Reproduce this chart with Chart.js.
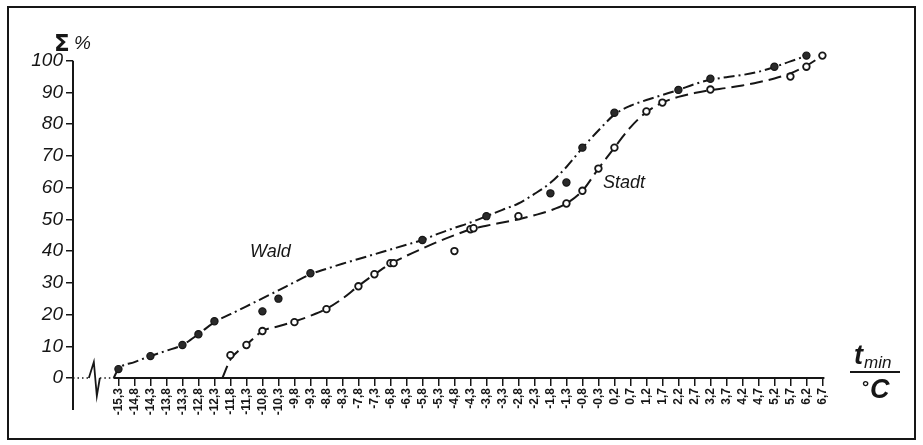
<!DOCTYPE html>
<html lang="de">
<head>
<meta charset="utf-8">
<title>Summenkurven der Minimumtemperatur – Wald und Stadt</title>
<script src="https://cdn.jsdelivr.net/npm/chart.js@4/dist/chart.umd.min.js"></script>
<style>
  html, body { margin: 0; padding: 0; background: #fff; }
  canvas { display: block; }
</style>
</head>
<body>
<canvas id="c" width="923" height="445"></canvas>
<script>
// Minimum temperatures (°C) on the x axis
const tempTicks = [-15.3, -14.8, -14.3, -13.8, -13.3, -12.8, -12.3, -11.8, -11.3, -10.8,
  -10.3, -9.8, -9.3, -8.8, -8.3, -7.8, -7.3, -6.8, -6.3, -5.8, -5.3, -4.8, -4.3, -3.8,
  -3.3, -2.8, -2.3, -1.8, -1.3, -0.8, -0.3, 0.2, 0.7, 1.2, 1.7, 2.2, 2.7, 3.2, 3.7,
  4.2, 4.7, 5.2, 5.7, 6.2, 6.7];
const percentTicks = [0, 10, 20, 30, 40, 50, 60, 70, 80, 90, 100];

// Wald: measured cumulative percentages
const waldPointT = [-15.3, -14.3, -13.3, -12.8, -12.3, -10.8, -10.3, -9.3, -5.8, -3.8,
  -1.8, -1.3, -0.8, 0.2, 2.2, 3.2, 5.2, 6.2];
const waldPointV = [2.8, 6.9, 10.4, 13.8, 17.9, 21, 25, 33, 43.5, 51,
  58.2, 61.6, 72.6, 83.6, 90.8, 94.3, 98.1, 101.6];

// Wald: smoothed cumulative curve
const waldCurveT = [-15.45, -15.3, -14.8, -14.3, -13.8, -13.3, -12.8, -12.3, -11.8, -11.3,
  -10.8, -10.3, -9.8, -9.3, -8.8, -8.3, -7.8, -7.3, -6.8, -6.3, -5.8, -5.3, -4.8, -4.3,
  -3.8, -3.3, -2.8, -2.3, -1.8, -1.3, -0.8, -0.3, 0.2, 0.7, 1.2, 1.7, 2.2, 2.7, 3.2,
  3.7, 4.2, 4.7, 5.2, 5.7, 6.2];
const waldCurveV = [0, 2.8, 5, 6.9, 8.6, 10.4, 13.8, 17.6, 20.1, 22.6,
  25.1, 27.6, 30.2, 32.7, 34.4, 36, 37.5, 39, 40.5, 42, 43.5, 45.5, 47.3, 49,
  51, 53, 55, 58, 61.5, 66.5, 72.5, 78, 83, 85.8, 87.6, 89.2, 90.8, 92.6, 94,
  94.8, 95.5, 96.5, 98, 99.8, 101.5];

// Stadt: measured cumulative percentages
const stadtPointT = [-11.8, -11.3, -10.8, -9.8, -8.8, -7.8, -7.3, -6.8, -6.7, -4.8,
  -4.3, -4.2, -2.8, -1.3, -0.8, -0.3, 0.2, 1.2, 1.7, 3.2, 5.7, 6.2, 6.7];
const stadtPointV = [7.2, 10.4, 14.8, 17.6, 21.7, 28.9, 32.7, 36.2, 36.2, 40,
  46.9, 47.2, 51, 55, 59, 66, 72.6, 84, 86.8, 90.9, 95, 98.1, 101.6];

// Stadt: smoothed cumulative curve
const stadtCurveT = [-12.05, -11.8, -11.3, -10.8, -10.3, -9.8, -9.3, -8.8, -8.3, -7.8,
  -7.3, -6.8, -6.3, -5.8, -5.3, -4.8, -4.3, -3.8, -3.3, -2.8, -2.3, -1.8, -1.3, -0.8,
  -0.3, 0.2, 0.7, 1.2, 1.7, 2.2, 2.7, 3.2, 3.7, 4.2, 4.7, 5.2, 5.7, 6.2, 6.7];
const stadtCurveV = [0, 5.8, 10.4, 14.8, 16.3, 17.8, 19.6, 21.8, 25, 29,
  32.7, 36, 38.5, 40.8, 43, 45, 46.8, 48, 49, 50, 51.3, 52.8, 55, 59,
  66, 72.6, 79, 83.8, 86.8, 88.6, 89.8, 90.7, 91.4, 92.2, 93.2, 94.4, 96, 98.4, 101.6];

// Curve labels: text, temperature, percentage
const curveNames = ['Wald', 'Stadt'];
const curveNameT = [-10.55, 0.5];
const curveNameV = [38, 60];

const ink = '#161616';
const toXY = (ts, vs) => ts.map((t, i) => ({ x: t, y: vs[i] }));

const decorations = {
  id: 'decorations',
  afterDraw(chart) {
    const { ctx, scales: { x, y }, chartArea } = chart;
    const y0 = y.getPixelForValue(0);
    ctx.save();
    ctx.strokeStyle = ink;
    ctx.fillStyle = ink;

    // frame around the figure
    ctx.lineWidth = 2;
    ctx.strokeRect(8, 7, 907, 432);

    // y axis line
    ctx.beginPath();
    ctx.moveTo(chartArea.left, y.getPixelForValue(100));
    ctx.lineTo(chartArea.left, y0 + 32);
    ctx.stroke();

    // x axis: dotted lead-in with a break, then the solid axis
    const breakX = x.getPixelForValue(-16.1);
    const startX = x.getPixelForValue(-15.45);
    ctx.lineWidth = 1.5;
    ctx.setLineDash([1.5, 3]);
    ctx.beginPath();
    ctx.moveTo(chartArea.left, y0); ctx.lineTo(breakX - 4, y0);
    ctx.moveTo(breakX + 7, y0); ctx.lineTo(startX, y0);
    ctx.stroke();
    ctx.setLineDash([]);
    ctx.lineWidth = 1.8;
    ctx.beginPath();
    ctx.moveTo(breakX - 4, y0);
    ctx.lineTo(breakX + 1, y0 - 16);
    ctx.lineTo(breakX + 4, y0 + 18);
    ctx.lineTo(breakX + 7, y0);
    ctx.stroke();
    ctx.lineWidth = 2;
    ctx.beginPath();
    ctx.moveTo(startX, y0);
    ctx.lineTo(x.getPixelForValue(6.7) + 2, y0);
    ctx.stroke();

    // y axis title: Σ %
    const yTop = y.getPixelForValue(100);
    ctx.textBaseline = 'alphabetic';
    ctx.textAlign = 'left';
    ctx.font = 'bold 23px "DejaVu Sans", sans-serif';
    ctx.fillText('Σ', chartArea.left - 19, yTop - 10);
    ctx.font = 'italic 19px "Liberation Sans", sans-serif';
    ctx.fillText('%', chartArea.left + 1, yTop - 12);

    // x axis title: t_min over °C
    const tx = chartArea.right + 26;
    ctx.font = 'italic bold 27px "Liberation Sans", sans-serif';
    ctx.fillText('t', tx + 4, y0 - 14);
    ctx.font = 'italic 17px "Liberation Sans", sans-serif';
    ctx.fillText('min', tx + 14, y0 - 10);
    ctx.lineWidth = 2;
    ctx.beginPath();
    ctx.moveTo(tx, y0 - 6); ctx.lineTo(tx + 50, y0 - 6);
    ctx.stroke();
    ctx.font = 'bold 18px "Liberation Sans", sans-serif';
    ctx.fillText('°', tx + 12, y0 + 15);
    ctx.font = 'italic bold 27px "Liberation Sans", sans-serif';
    ctx.fillText('C', tx + 20, y0 + 20);

    // curve names
    ctx.font = 'italic 18px "Liberation Sans", sans-serif';
    ctx.textAlign = 'center';
    curveNames.forEach((name, i) => {
      ctx.fillText(name, x.getPixelForValue(curveNameT[i]), y.getPixelForValue(curveNameV[i]));
    });
    ctx.restore();
  }
};

new Chart(document.getElementById('c'), {
  type: 'scatter',
  data: {
    datasets: [
      {
        label: 'Wald (Kurve)',
        type: 'line',
        data: toXY(waldCurveT, waldCurveV),
        borderColor: ink,
        borderWidth: 2,
        borderDash: [11, 4, 2, 4],
        pointRadius: 0,
        cubicInterpolationMode: 'monotone',
        clip: false,
        order: 4
      },
      {
        label: 'Stadt (Kurve)',
        type: 'line',
        data: toXY(stadtCurveT, stadtCurveV),
        borderColor: ink,
        borderWidth: 2,
        borderDash: [13, 6],
        pointRadius: 0,
        cubicInterpolationMode: 'monotone',
        clip: false,
        order: 3
      },
      {
        label: 'Wald',
        data: toXY(waldPointT, waldPointV),
        showLine: false,
        pointRadius: 3.6,
        pointBackgroundColor: '#2a2a2a',
        pointBorderColor: ink,
        pointBorderWidth: 1.2,
        clip: false,
        order: 2
      },
      {
        label: 'Stadt',
        data: toXY(stadtPointT, stadtPointV),
        showLine: false,
        pointRadius: 3.3,
        pointBackgroundColor: '#ffffff',
        pointBorderColor: ink,
        pointBorderWidth: 1.8,
        clip: false,
        order: 1
      }
    ]
  },
  options: {
    responsive: false,
    animation: false,
    events: [],
    layout: { padding: { top: 48, right: 99, bottom: 0, left: 0 } },
    plugins: { legend: { display: false }, tooltip: { enabled: false } },
    scales: {
      x: {
        type: 'linear',
        min: -16.72,
        max: 6.75,
        afterBuildTicks(scale) { scale.ticks = tempTicks.map(v => ({ value: v })); },
        afterFit(scale) { scale.height = 67; },
        border: { display: false },
        grid: { drawOnChartArea: false, drawTicks: true, tickLength: 8, color: ink, lineWidth: 1.5 },
        ticks: {
          autoSkip: false,
          minRotation: 90,
          maxRotation: 90,
          padding: 2,
          color: ink,
          font: { family: '"Liberation Sans", sans-serif', size: 12, weight: 'bold' },
          callback: v => v.toFixed(1).replace('.', ',')
        }
      },
      y: {
        min: 0,
        max: 104,
        afterBuildTicks(scale) { scale.ticks = percentTicks.map(v => ({ value: v })); },
        afterFit(scale) { scale.width = 73; },
        border: { display: false },
        grid: { drawOnChartArea: false, drawTicks: true, tickLength: 7, color: ink, lineWidth: 1.5 },
        ticks: {
          padding: 3,
          color: ink,
          font: { family: '"Liberation Sans", sans-serif', size: 19, style: 'italic' }
        }
      }
    }
  },
  plugins: [decorations]
});
</script>
</body>
</html>
